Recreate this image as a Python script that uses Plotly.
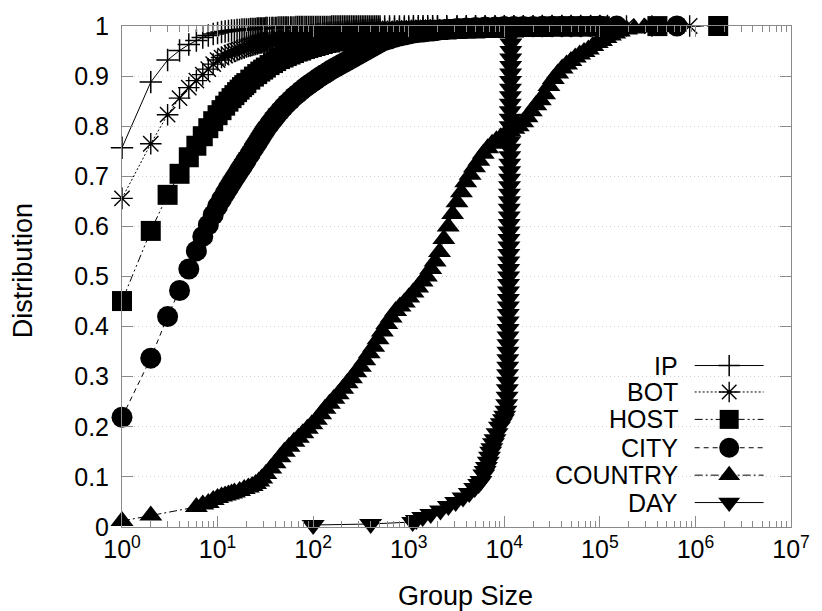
import plotly.graph_objects as go

# Group sizes shared by the four dense CDF curves
SIZES = [1, 2, 3, 4, 5, 6, 7, 8, 9, 10,
         11, 12, 13, 14, 15, 16, 17, 18, 19, 20,
         22, 24, 26, 28, 30, 32, 35, 38, 41, 45,
         49, 53, 58, 63, 69, 75, 82, 89, 97, 106,
         115, 126, 137, 150, 163, 178, 194, 212, 231, 252,
         274, 299, 326, 355, 387, 422, 460, 501, 560, 630,
         710, 800, 900, 1000, 1120, 1260, 1410, 1580, 1780, 2000,
         2500, 3200, 4000, 5000, 6300, 8000, 10000, 12600, 15800, 20000,
         25000, 31600, 40000, 50000, 63000, 80000, 100000]

# Extra group sizes where the IP and BOT curves are sampled more finely
SIZES_FINE = [21, 23, 25, 27, 29, 31, 33, 37, 40, 43,
              47, 51, 55, 60, 66, 72, 78, 85, 93, 101,
              110, 120, 131, 143, 156, 170, 186, 203, 221, 241,
              263, 286, 312, 340, 371, 404, 441, 480]

IP_Y = [0.757, 0.888, 0.932, 0.951, 0.963, 0.971, 0.977, 0.981, 0.984, 0.986,
        0.988, 0.989, 0.990, 0.991, 0.991, 0.992, 0.992, 0.993, 0.993, 0.993,
        0.994, 0.994, 0.995, 0.995, 0.995, 0.996, 0.996, 0.996, 0.996, 0.997,
        0.997, 0.997, 0.997, 0.997, 0.998, 0.998, 0.998, 0.998, 0.998, 0.998,
        0.998, 0.998, 0.998, 0.998, 0.999, 0.999, 0.999, 0.999, 0.999, 0.999,
        0.999, 0.999, 0.999, 0.999, 0.999, 0.999, 0.999, 0.999, 0.999, 0.999,
        0.999, 0.999, 0.999, 0.999, 0.9995, 0.9995, 0.9995, 0.9995, 0.9995, 0.9995,
        0.9995, 0.9995, 0.9995, 0.9995, 0.9998, 0.9998, 0.9998, 0.9998, 0.9998, 0.9998,
        1.0, 1.0, 1.0, 1.0, 1.0, 1.0, 1.0]
IP_FINE_Y = [0.993, 0.994, 0.994, 0.995, 0.995, 0.995, 0.996, 0.996, 0.996, 0.997,
             0.997, 0.997, 0.997, 0.997, 0.998, 0.998, 0.998, 0.998, 0.998, 0.998,
             0.998, 0.998, 0.998, 0.998, 0.999, 0.999, 0.999, 0.999, 0.999, 0.999,
             0.999, 0.999, 0.999, 0.999, 0.999, 0.999, 0.999, 0.999]
IP_TAIL_X = [120000]
IP_TAIL_Y = [1.0]

BOT_Y = [0.656, 0.765, 0.823, 0.856, 0.877, 0.891, 0.903, 0.914, 0.924, 0.932,
         0.937, 0.941, 0.944, 0.947, 0.949, 0.951, 0.953, 0.955, 0.956, 0.958,
         0.960, 0.962, 0.964, 0.966, 0.967, 0.968, 0.970, 0.971, 0.972, 0.974,
         0.975, 0.976, 0.977, 0.978, 0.979, 0.980, 0.981, 0.982, 0.983, 0.984,
         0.985, 0.986, 0.986, 0.987, 0.988, 0.988, 0.989, 0.989, 0.990, 0.990,
         0.991, 0.991, 0.992, 0.992, 0.993, 0.993, 0.993, 0.994, 0.994, 0.995,
         0.995, 0.995, 0.996, 0.996, 0.996, 0.997, 0.997, 0.997, 0.997, 0.998,
         0.998, 0.998, 0.998, 0.999, 0.999, 0.999, 0.999, 0.9993, 0.9995, 0.9995,
         0.9996, 0.9997, 0.9998, 0.9998, 0.9999, 0.9999, 0.9999]
BOT_FINE_Y = [0.959, 0.961, 0.963, 0.965, 0.966, 0.967, 0.969, 0.970, 0.971, 0.973,
              0.974, 0.975, 0.976, 0.977, 0.978, 0.979, 0.980, 0.981, 0.982, 0.983,
              0.984, 0.985, 0.986, 0.987, 0.987, 0.988, 0.988, 0.989, 0.989, 0.990,
              0.990, 0.991, 0.991, 0.992, 0.992, 0.993, 0.993, 0.993]
BOT_TAIL_X = [190000, 350000, 870000]
BOT_TAIL_Y = [0.9999, 1.0, 1.0]

HOST_Y = [0.451, 0.591, 0.663, 0.705, 0.738, 0.761, 0.780, 0.796, 0.810, 0.822,
          0.832, 0.841, 0.849, 0.856, 0.862, 0.868, 0.873, 0.878, 0.882, 0.886,
          0.893, 0.899, 0.904, 0.909, 0.913, 0.917, 0.922, 0.926, 0.930, 0.934,
          0.937, 0.940, 0.943, 0.946, 0.949, 0.951, 0.954, 0.956, 0.958, 0.960,
          0.962, 0.964, 0.966, 0.967, 0.969, 0.970, 0.972, 0.973, 0.974, 0.975,
          0.977, 0.978, 0.979, 0.980, 0.981, 0.982, 0.983, 0.984, 0.985, 0.986,
          0.987, 0.988, 0.988, 0.989, 0.990, 0.990, 0.991, 0.991, 0.992, 0.992,
          0.993, 0.994, 0.995, 0.995, 0.996, 0.996, 0.997, 0.997, 0.998, 0.998,
          0.998, 0.999, 0.999, 0.999, 0.999, 0.9995, 0.9995]
HOST_TAIL_X = [400000, 1730000]
HOST_TAIL_Y = [0.9998, 1.0]

CITY_Y = [0.219, 0.337, 0.420, 0.472, 0.515, 0.551, 0.580, 0.603, 0.623, 0.640,
          0.654, 0.666, 0.677, 0.687, 0.696, 0.704, 0.712, 0.719, 0.726, 0.733,
          0.745, 0.757, 0.767, 0.777, 0.786, 0.794, 0.804, 0.813, 0.821, 0.830,
          0.838, 0.845, 0.852, 0.859, 0.865, 0.871, 0.877, 0.882, 0.887, 0.892,
          0.897, 0.902, 0.906, 0.911, 0.915, 0.919, 0.923, 0.927, 0.931, 0.935,
          0.939, 0.943, 0.947, 0.951, 0.955, 0.959, 0.963, 0.967, 0.971, 0.974,
          0.977, 0.980, 0.982, 0.984, 0.986, 0.987, 0.988, 0.989, 0.990, 0.991,
          0.993, 0.995, 0.996, 0.997, 0.998, 0.998, 0.999, 0.999, 0.999, 0.999,
          0.9995, 0.9995, 0.9995, 0.9995, 0.9997, 0.9997, 0.9998]
CITY_TAIL_X = [150000, 640000]
CITY_TAIL_Y = [0.9999, 1.0]

COUNTRY_X = [1, 2, 6, 7, 8, 9, 10, 11, 12, 13, 14, 15,
             17, 19, 21, 23, 25, 27, 29,
             32, 36, 40, 45, 50, 56, 63, 70, 78, 87, 97,
             108, 120, 133, 148, 165, 183, 204, 227, 252, 280,
             312, 347, 386, 430, 478, 530, 590, 655, 730, 810,
             900, 1000, 1110, 1240, 1380, 1530, 1700, 1890, 2100, 2330,
             2590, 2880, 3200, 3560, 3950, 4390, 4880, 5420, 6030, 6700,
             7450, 8280, 9200, 10200, 11400, 12600, 14000, 15600, 17300, 19200,
             21400, 23800, 26400, 29300, 32600, 36200, 40300, 44800, 49800, 55300,
             61500, 68300, 75900, 84400, 93800, 104000, 116000, 129000, 143000, 160000,
             190000, 230000, 290000, 450000]
COUNTRY_Y = [0.012, 0.023, 0.040, 0.045, 0.048, 0.054, 0.058, 0.061, 0.063, 0.065, 0.067, 0.069,
             0.072, 0.076, 0.079, 0.082, 0.086, 0.091, 0.097,
             0.106, 0.117, 0.127, 0.139, 0.150, 0.160, 0.170, 0.178, 0.187, 0.196, 0.205,
             0.214, 0.225, 0.236, 0.246, 0.256, 0.265, 0.276, 0.287, 0.297, 0.309,
             0.320, 0.333, 0.347, 0.360, 0.375, 0.390, 0.405, 0.418, 0.431, 0.440,
             0.448, 0.458, 0.468, 0.478, 0.490, 0.500, 0.515, 0.530, 0.549, 0.575,
             0.600, 0.625, 0.648, 0.668, 0.688, 0.703, 0.718, 0.731, 0.745, 0.756,
             0.765, 0.772, 0.778, 0.784, 0.790, 0.795, 0.800, 0.808, 0.818, 0.830,
             0.842, 0.852, 0.864, 0.880, 0.894, 0.905, 0.915, 0.923, 0.930, 0.937,
             0.943, 0.948, 0.953, 0.960, 0.966, 0.970, 0.976, 0.981, 0.985, 0.989,
             0.993, 0.995, 0.997, 0.998]

DAY_X = [100, 400, 1100, 1200, 1400, 1700, 2150, 2600, 3100, 3700,
         4300, 4900, 5400, 5700, 6100, 6300, 6500, 6800, 7000, 7200,
         7400, 7700, 8000, 8400, 8900, 9300, 9800, 10100, 10400, 10600,
         10700, 10750, 10800, 10830, 10860, 10880, 10900, 10920, 10940, 10960,
         10980, 11000, 11020, 11040, 11060, 11080, 11100, 11120, 11140, 11160,
         11180, 11200, 11220, 11240, 11260, 11280, 11300, 11320, 11340, 11360,
         11380, 11400, 11420, 11440, 11460, 11480, 11500, 11520, 11540, 11560,
         11580, 11600, 11620, 11640, 11660, 11680, 11700, 11720, 11740, 11770,
         11800]
DAY_Y = [0.004, 0.006, 0.010, 0.014, 0.020, 0.026, 0.033, 0.042, 0.050, 0.059,
         0.068, 0.078, 0.086, 0.092, 0.105, 0.112, 0.120, 0.130, 0.140, 0.150,
         0.157, 0.167, 0.175, 0.187, 0.200, 0.207, 0.215, 0.222, 0.232, 0.245,
         0.260, 0.275, 0.290, 0.305, 0.320, 0.335, 0.350, 0.365, 0.380, 0.395,
         0.410, 0.425, 0.440, 0.455, 0.470, 0.485, 0.500, 0.515, 0.530, 0.545,
         0.560, 0.575, 0.590, 0.605, 0.620, 0.635, 0.650, 0.665, 0.680, 0.695,
         0.710, 0.725, 0.740, 0.755, 0.770, 0.785, 0.800, 0.815, 0.830, 0.845,
         0.860, 0.875, 0.890, 0.905, 0.920, 0.935, 0.950, 0.965, 0.980, 0.990,
         1.000]

for ys in (IP_Y, BOT_Y, HOST_Y, CITY_Y):
    assert len(ys) == len(SIZES)
for ys in (IP_FINE_Y, BOT_FINE_Y):
    assert len(ys) == len(SIZES_FINE)
assert len(COUNTRY_X) == len(COUNTRY_Y)
assert len(DAY_X) == len(DAY_Y)

X_TICKS = [10 ** k for k in range(8)]
X_TICK_TEXT = ["10<sup>%d</sup>" % k for k in range(8)]
Y_TICKS = [0, 0.1, 0.2, 0.3, 0.4, 0.5, 0.6, 0.7, 0.8, 0.9, 1]
Y_TICK_TEXT = ["0", "0.1", "0.2", "0.3", "0.4", "0.5", "0.6", "0.7", "0.8", "0.9", "1"]

FONT = "Liberation Sans, Arial, Helvetica, sans-serif"
AXIS_GREY = "#8a8a8a"


def merged(*parts):
    """Combine (x, y) samples of one curve, ordered by group size."""
    pts = sorted(p for xs, ys in parts for p in zip(xs, ys))
    return [p[0] for p in pts], [p[1] for p in pts]


# marker symbol, marker size, marker line width, line dash
STYLE = {
    "IP": ("cross-thin-open", 16, 1.5, "solid"),
    "BOT": ("asterisk-open", 18, 1.4, "2px,2px"),
    "HOST": ("square", 20, 0, "8px,3px,2px,3px,2px,3px"),
    "CITY": ("circle", 21, 0, "5px,4px"),
    "COUNTRY": ("triangle-up", 20, 0, "8px,3px,2px,3px"),
    "DAY": ("triangle-down", 20, 0, "solid"),
}

series = [
    ("IP",) + merged((SIZES, IP_Y), (SIZES_FINE, IP_FINE_Y), (IP_TAIL_X, IP_TAIL_Y)),
    ("BOT",) + merged((SIZES, BOT_Y), (SIZES_FINE, BOT_FINE_Y), (BOT_TAIL_X, BOT_TAIL_Y)),
    ("HOST",) + merged((SIZES, HOST_Y), (HOST_TAIL_X, HOST_TAIL_Y)),
    ("CITY",) + merged((SIZES, CITY_Y), (CITY_TAIL_X, CITY_TAIL_Y)),
    ("COUNTRY", COUNTRY_X, COUNTRY_Y),
    ("DAY", DAY_X, DAY_Y),
]

fig = go.Figure()
for name, xs, ys in series:
    sym, size, lw, dash = STYLE[name]
    fig.add_trace(go.Scatter(
        x=xs, y=ys, mode="lines+markers", name=name, showlegend=False,
        cliponaxis=False,
        line=dict(color="black", width=1, dash=dash),
        marker=dict(symbol=sym, size=size, color="black",
                    line=dict(color="black", width=lw)),
    ))

# Key in the lower right of the plot area: label, then line sample with symbol
KEY_ROWS = [0.3223, 0.2695, 0.2148, 0.1582, 0.1035, 0.0488]
KEY_TEXT_X = 0.834
KEY_LINE_X0, KEY_LINE_X1, KEY_MARK_X = 0.856, 0.959, 0.9076
KEY_SIZE_SCALE = 0.95
shapes = []
annotations = []
for (name, _, _), ky in zip(series, KEY_ROWS):
    sym, size, lw, dash = STYLE[name]
    shapes.append(dict(type="line", xref="paper", yref="paper",
                       x0=KEY_LINE_X0, x1=KEY_LINE_X1, y0=ky, y1=ky,
                       line=dict(color="black", width=1, dash=dash)))
    fig.add_trace(go.Scatter(
        x=[KEY_MARK_X], y=[ky], xaxis="x2", yaxis="y2", mode="markers",
        showlegend=False, cliponaxis=False,
        marker=dict(symbol=sym, size=size * KEY_SIZE_SCALE, color="black",
                    line=dict(color="black", width=lw)),
    ))
    annotations.append(dict(text=name, xref="paper", yref="paper",
                            x=KEY_TEXT_X, y=ky, xanchor="right", yanchor="middle",
                            showarrow=False, font=dict(size=25, color="black", family=FONT)))

annotations.append(dict(text="Distribution", xref="paper", yref="paper",
                        x=-0.147, y=0.512, xanchor="center", yanchor="middle",
                        textangle=-90, showarrow=False,
                        font=dict(size=27, color="black", family=FONT)))
annotations.append(dict(text="Group Size", xref="paper", yref="paper",
                        x=0.513, y=-0.137, xanchor="center", yanchor="middle",
                        showarrow=False, font=dict(size=27, color="black", family=FONT)))

minor_x = [m * 10 ** k for k in range(7) for m in range(2, 10)]

fig.update_layout(
    width=822, height=611,
    margin=dict(l=122, r=21, t=15, b=84),
    paper_bgcolor="white", plot_bgcolor="white",
    font=dict(family=FONT, color="black", size=24),
    shapes=shapes,
    annotations=annotations,
    xaxis=dict(
        type="log", range=[0, 7],
        tickmode="array", tickvals=X_TICKS, ticktext=X_TICK_TEXT,
        ticks="inside", ticklen=11, tickwidth=1, tickcolor=AXIS_GREY,
        showline=True, linecolor=AXIS_GREY, linewidth=1, mirror="allticks",
        showgrid=False, zeroline=False,
        tickfont=dict(size=25, family=FONT, color="black"),
        minor=dict(tickmode="array", tickvals=minor_x, ticks="inside",
                   ticklen=6, tickwidth=1, tickcolor=AXIS_GREY, showgrid=False),
    ),
    yaxis=dict(
        range=[0, 1],
        tickmode="array", tickvals=Y_TICKS, ticktext=Y_TICK_TEXT,
        ticks="inside", ticklen=11, tickwidth=1, tickcolor=AXIS_GREY,
        showline=True, linecolor=AXIS_GREY, linewidth=1, mirror="allticks",
        showgrid=True, gridcolor="#cfcfcf", griddash="1px,3px", gridwidth=1,
        zeroline=False, ticklabelstandoff=7,
        tickfont=dict(size=25, family=FONT, color="black"),
    ),
    xaxis2=dict(overlaying="x", range=[0, 1], visible=False, fixedrange=True),
    yaxis2=dict(overlaying="y", range=[0, 1], visible=False, fixedrange=True),
)

fig.write_html("out.html")
